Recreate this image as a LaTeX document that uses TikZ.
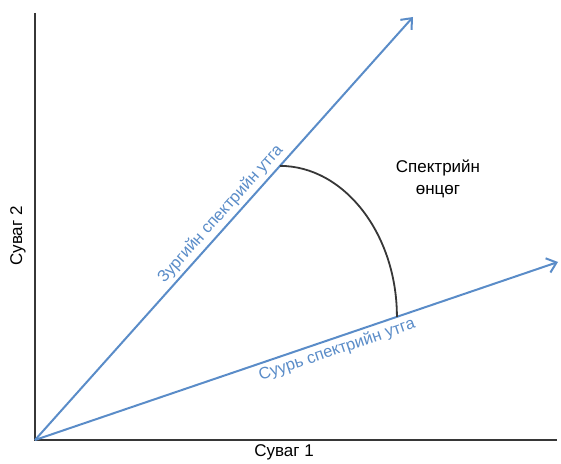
\documentclass[tikz,border=0pt]{standalone}
\usepackage{fontspec}
\setmainfont{Liberation Sans}
\usetikzlibrary{arrows.meta,calc}
\definecolor{vecblue}{RGB}{90,140,200}
\definecolor{axisgray}{RGB}{55,55,55}
\begin{document}
\begin{tikzpicture}[x=1pt, y=1pt,
                    axis/.style = {axisgray, line width=2.4pt},
                    vec/.style = {vecblue, line width=2pt, -{Straight Barb[length=9pt, width=15pt]}},
                    veclabel/.style = {vecblue, sloped, font=\fontsize{16.5}{18}\selectfont},
                    anglelabel/.style = {align=center, font=\fontsize{17}{22}\selectfont}]
                    \useasboundingbox (0,0) rectangle (561,463);

                    \coordinate (O) at (35,23);
                    \coordinate (ytop) at (35,450);
                    \coordinate (xend) at (557,23);
                    \coordinate (t1) at (413,446);
                    \coordinate (t2) at (558,201);

                    \draw[axis] (ytop) -- (O) -- (xend);

                    \draw[vec] (O) -- (t1) node [veclabel, pos=0.515, above] (img) {Зургийн спектрийн утга};
                    \draw[vec] (O) -- (t2) node [veclabel, pos=0.57, below] (bg) {Суурь спектрийн утга};

                    \coordinate (A) at ($(O)!0.648!(t1)$);
                    \coordinate (B) at ($(O)!0.692!(t2)$);
                    \draw[axisgray, line width=1.8pt] (A) .. controls ($(A)+(64,0)$) and ($(B)+(0,83)$) .. (B);

                    \node [anglelabel] (angle) at (438,284) {Спектрийн\\өнцөг};
                    \node [anglelabel] (ch1) at (284,11) {Суваг 1};
                    \node [anglelabel, rotate=90] (ch2) at (18,227) {Суваг 2};
\end{tikzpicture}
\end{document}
